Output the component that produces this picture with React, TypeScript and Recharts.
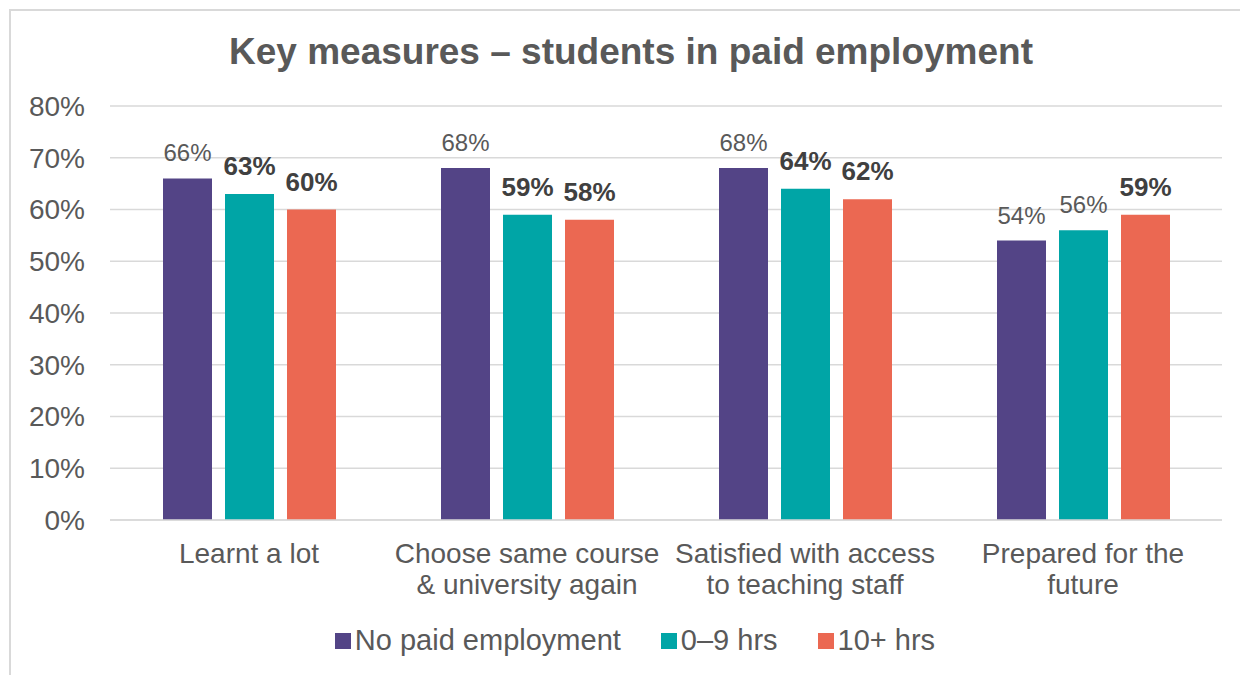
import React from "react";
import { BarChart, Bar, XAxis, YAxis, CartesianGrid, LabelList, Legend } from "recharts";

const categories = [
  "Learnt a lot",
  "Choose same course\n& university again",
  "Satisfied with access\nto teaching staff",
  "Prepared for the\nfuture",
];
const noPaid = [66, 68, 68, 54];
const hrs0to9 = [63, 59, 64, 56];
const hrs10plus = [60, 58, 62, 59];
const noPaidBold = [false, false, false, false];
const hrs0to9Bold = [true, true, true, false];
const hrs10plusBold = [true, true, true, true];
const yTicks = [0, 10, 20, 30, 40, 50, 60, 70, 80];
const seriesNames = ["No paid employment", "0\u20139 hrs", "10+ hrs"];
const colors = ["#534486", "#00A5A6", "#EB6852"];

const data = categories.map((c, i) => ({
  name: c,
  noPaid: noPaid[i],
  hrs0to9: hrs0to9[i],
  hrs10plus: hrs10plus[i],
}));

const FONT = "'Liberation Sans', Arial, sans-serif";

const makeLabel = (boldFlags: boolean[]) => (props: any) => {
  const { x, y, width, value, index } = props;
  const bold = boldFlags[index];
  return (
    <text
      x={Number(x) + Number(width) / 2}
      y={Number(y) - (bold ? 19 : 17)}
      textAnchor="middle"
      fontFamily={FONT}
      fontSize={bold ? 26 : 24}
      fontWeight={bold ? 700 : 400}
      fill={bold ? "#404040" : "#595959"}
    >
      {value}%
    </text>
  );
};

const CatTick = (props: any) => {
  const { x, y, payload } = props;
  const lines = String(payload.value).split("\n");
  return (
    <text x={x} y={y} textAnchor="middle" fontFamily={FONT} fontSize={28} fill="#595959">
      {lines.map((l, i) => (
        <tspan key={i} x={x} dy={i === 0 ? 43 : 31}>
          {l}
        </tspan>
      ))}
    </text>
  );
};

const LegendContent = () => (
  <div
    style={{
      display: "flex",
      justifyContent: "center",
      alignItems: "center",
      height: 45,
      paddingTop: 6,
      boxSizing: "border-box",
      fontFamily: FONT,
      fontSize: 29,
      color: "#595959",
      paddingLeft: 48,
    }}
  >
    {seriesNames.map((n, i) => (
      <div key={n} style={{ display: "flex", alignItems: "center", marginRight: i < 2 ? 40 : 0 }}>
        <div style={{ width: 16, height: 16, background: colors[i], marginRight: 4 }} />
        <span>{n}</span>
      </div>
    ))}
  </div>
);

export default function App() {
  return (
    <div
      style={{
        position: "absolute",
        left: 0,
        top: 0,
        width: 1240,
        height: 675,
        overflow: "hidden",
        background: "#fff",
      }}
    >
      <div
        style={{
          position: "absolute",
          left: 9,
          top: 9,
          width: 1400,
          height: 800,
          border: "2px solid #d9d9d9",
          boxSizing: "border-box",
        }}
      />
      <div
        style={{
          position: "absolute",
          left: 0,
          top: 28,
          width: 1262,
          textAlign: "center",
          fontFamily: FONT,
          fontSize: 37,
          fontWeight: 700,
          color: "#595959",
          lineHeight: "48px",
          whiteSpace: "nowrap",
        }}
      >
        Key measures – students in paid employment
      </div>
      <div style={{ position: "absolute", left: 0, top: 0 }}>
        <BarChart
          width={1240}
          height={675}
          data={data}
          margin={{ top: 106, right: 18, bottom: 15, left: 0 }}
          barSize={49}
          barGap={13}
        >
          <CartesianGrid vertical={false} stroke="#d9d9d9" strokeWidth={1.5} />
          <XAxis
            dataKey="name"
            tick={<CatTick />}
            tickLine={false}
            tickSize={0}
            tickMargin={0}
            height={95}
            interval={0}
            axisLine={{ stroke: "#d9d9d9", strokeWidth: 1.5 }}
          />
          <YAxis
            domain={[0, 80]}
            ticks={yTicks}
            tickFormatter={(v: number) => `${v}%`}
            axisLine={false}
            tickLine={false}
            tickSize={0}
            tickMargin={25}
            width={110}
            tick={{ fontFamily: FONT, fontSize: 28, fill: "#595959" }}
          />
          <Legend verticalAlign="bottom" height={45} content={<LegendContent />} />
          <Bar dataKey="noPaid" name={seriesNames[0]} fill={colors[0]} isAnimationActive={false}>
            <LabelList dataKey="noPaid" content={makeLabel(noPaidBold)} />
          </Bar>
          <Bar dataKey="hrs0to9" name={seriesNames[1]} fill={colors[1]} isAnimationActive={false}>
            <LabelList dataKey="hrs0to9" content={makeLabel(hrs0to9Bold)} />
          </Bar>
          <Bar dataKey="hrs10plus" name={seriesNames[2]} fill={colors[2]} isAnimationActive={false}>
            <LabelList dataKey="hrs10plus" content={makeLabel(hrs10plusBold)} />
          </Bar>
        </BarChart>
      </div>
    </div>
  );
}
